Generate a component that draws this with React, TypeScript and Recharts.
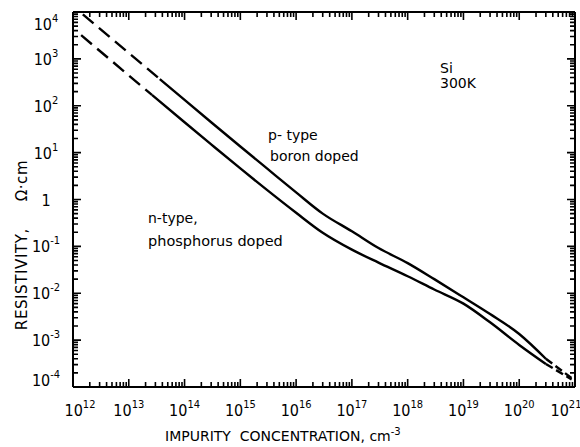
import { LineChart, Line, XAxis, YAxis, ReferenceLine } from 'recharts';

// Irvin curves, Si at 300K: concentration in cm^-3, resistivity in ohm-cm
const pDashConc = [1.5e12, 3.6e13];
const pDashRho = [8900, 370];
const pConc = [3.6e13, 1e14, 3e14, 1e15, 3e15, 1e16, 3e16, 1e17, 3e17, 1e18, 3e18, 1e19, 3e19, 1e20, 3e20];
const pRho = [370, 133, 44.5, 13.5, 4.6, 1.42, 0.5, 0.21, 0.092, 0.044, 0.02, 0.0082, 0.0036, 0.00135, 0.0004];
const pTailConc = [3e20, 8.7e20];
const pTailRho = [0.0004, 0.000155];

const nDashConc = [1.4e12, 2.6e13];
const nDashRho = [3200, 170];
const nConc = [2.6e13, 1e14, 3e14, 1e15, 3e15, 1e16, 3e16, 1e17, 3e17, 1e18, 3e18, 1e19, 3e19, 1e20, 3e20];
const nRho = [170, 44.5, 15, 4.6, 1.6, 0.52, 0.195, 0.085, 0.045, 0.023, 0.012, 0.006, 0.0024, 0.00079, 0.00031];
const nTailConc = [3e20, 8.7e20];
const nTailRho = [0.00031, 0.000145];

// decade exponents for the tick labels
const xExps = [12, 13, 14, 15, 16, 17, 18, 19, 20, 21];
const yExps = [-4, -3, -2, -1, 0, 1, 2, 3, 4];

const TICK_FONT = "'Liberation Sans Narrow', 'DejaVu Sans Condensed', sans-serif";
const TEXT_FONT = "'DejaVu Sans', sans-serif";
const INK = '#000';

const X_MIN = 1e12;
const X_MAX = 1e21;
const Y_MIN = 1e-4;
const Y_MAX = 1e4;

// plot box is 502 x 375 px -> pixels per decade, used to size the inward tick marks
const PX_DEC_X = 502 / 9;
const PX_DEC_Y = 375 / 8;

type Row = { n: number; rho: number | null };
const toRows = (xs: number[], ys: number[]): Row[] => xs.map((n, i) => ({ n, rho: ys[i] }));

const decades = (exps: number[]) => exps.map((e) => Math.pow(10, e));
// 2..9 in every decade
const minors = (exps: number[]) => {
  const out: number[] = [];
  exps.slice(0, -1).forEach((e) => {
    for (let m = 2; m <= 9; m++) out.push(m * Math.pow(10, e));
  });
  return out;
};

const xMajor = decades(xExps);
const yMajor = decades(yExps);
const xMinor = minors(xExps);
const yMinor = minors(yExps);

// inward tick marks as short broken polylines (null rows split the segments)
const bottomTicks: Row[] = [];
const topTicks: Row[] = [];
const leftTicks: Row[] = [];
const rightTicks: Row[] = [];
const addX = (v: number, len: number) => {
  const f = Math.pow(10, len / PX_DEC_Y);
  bottomTicks.push({ n: v, rho: Y_MIN }, { n: v, rho: Y_MIN * f }, { n: v, rho: null });
  topTicks.push({ n: v, rho: Y_MAX }, { n: v, rho: Y_MAX / f }, { n: v, rho: null });
};
const addY = (v: number, len: number) => {
  const f = Math.pow(10, len / PX_DEC_X);
  leftTicks.push({ n: X_MIN, rho: v }, { n: X_MIN * f, rho: v }, { n: X_MIN * f, rho: null });
  rightTicks.push({ n: X_MAX / f, rho: v }, { n: X_MAX, rho: v }, { n: X_MAX, rho: null });
};
[...xMajor].sort((a, b) => a - b).forEach((v) => addX(v, 8));
xMinor.forEach((v) => addX(v, 5));
yMajor.forEach((v) => addY(v, 8));
yMinor.forEach((v) => addY(v, 5));

function Power({ e }: { e: number }) {
  if (e === 0) return <>1</>;
  return (
    <>
      10
      <tspan dy={-8} fontSize={11}>
        {e}
      </tspan>
    </>
  );
}

const expOf = (v: number) => Math.round(Math.log10(v));

function BottomLabel(props: any) {
  const { x, y, payload } = props;
  const cx = Math.min(Math.max(x, 80), 566);
  return (
    <text x={cx} y={y + 29} textAnchor="middle" fontFamily={TICK_FONT} fontSize={16} fill={INK}>
      <Power e={expOf(payload.value)} />
    </text>
  );
}

function LeftLabel(props: any) {
  const { x, y, payload } = props;
  const cy = Math.min(Math.max(y, 24), 380);
  return (
    <text x={x - 27} y={cy + 6} textAnchor="middle" fontFamily={TICK_FONT} fontSize={16} fill={INK}>
      <Power e={expOf(payload.value)} />
    </text>
  );
}

const axisLine = { stroke: INK, strokeWidth: 2 };

export default function App() {
  const curve = { dataKey: 'rho', stroke: INK, strokeWidth: 2.4, dot: false, isAnimationActive: false };
  const tick = { dataKey: 'rho', stroke: INK, strokeWidth: 1.6, dot: false, isAnimationActive: false, type: 'linear' as const };

  return (
    <div style={{ position: 'absolute', left: 0, top: 0, width: 580, height: 447, background: '#fff' }}>
      {/* titles and curve notes, kept under the chart */}
      <svg width={580} height={447} style={{ position: 'absolute', left: 0, top: 0 }}>
        <g fontFamily={TEXT_FONT} fill={INK} fontSize={14}>
          <text x={440} y={73}>Si</text>
          <text x={440} y={88}>300K</text>
          <text x={268} y={140}>p- type</text>
          <text x={270} y={161}>boron doped</text>
          <text x={148} y={223}>n-type,</text>
          <text x={148} y={246} fontSize={14.5}>phosphorus doped</text>
        </g>
        <text x={165} y={441} fontFamily={TEXT_FONT} fontSize={14} fill={INK}>
          {'IMPURITY\u00a0\u00a0CONCENTRATION, cm'}
          <tspan dy={-6} fontSize={10}>-3</tspan>
        </text>
        <text
          x={27}
          y={245}
          transform="rotate(-90 27 245)"
          textAnchor="middle"
          fontFamily={TEXT_FONT}
          fontSize={15}
          letterSpacing={0.6}
          fill={INK}
        >
          {'RESISTIVITY,\u00a0\u00a0\u00a0\u00a0\u00a0Ω·cm'}
        </text>
      </svg>

      <div style={{ position: 'absolute', left: 0, top: 0 }}>
        <LineChart width={580} height={447} margin={{ top: 12, right: 5, bottom: 0, left: 0 }}>
          <XAxis xAxisId="bottom" dataKey="n" type="number" scale="log" domain={[X_MIN, X_MAX]} allowDataOverflow
            interval={0} ticks={xMajor} height={60} tickSize={0} tickMargin={0}
            tickLine={false} axisLine={axisLine} tick={BottomLabel} />
          <YAxis yAxisId="left" type="number" scale="log" domain={[Y_MIN, Y_MAX]} allowDataOverflow
            interval={0} ticks={yMajor} width={73} tickSize={0} tickMargin={0}
            tickLine={false} axisLine={axisLine} tick={LeftLabel} />

          {/* top and right edges of the box */}
          <ReferenceLine xAxisId="bottom" yAxisId="left" y={Y_MAX} stroke={INK} strokeWidth={2} ifOverflow="visible" />
          <ReferenceLine xAxisId="bottom" yAxisId="left" x={X_MAX} stroke={INK} strokeWidth={2} ifOverflow="visible" />

          <Line {...tick} xAxisId="bottom" yAxisId="left" data={bottomTicks} />
          <Line {...tick} xAxisId="bottom" yAxisId="left" data={topTicks} />
          <Line {...tick} xAxisId="bottom" yAxisId="left" data={leftTicks} />
          <Line {...tick} xAxisId="bottom" yAxisId="left" data={rightTicks} />

          <Line {...curve} xAxisId="bottom" yAxisId="left" data={toRows(pDashConc, pDashRho)} type="linear" strokeDasharray="14 7" />
          <Line {...curve} xAxisId="bottom" yAxisId="left" data={toRows(pConc, pRho)} type="monotone" />
          <Line {...curve} xAxisId="bottom" yAxisId="left" data={toRows(pTailConc, pTailRho)} type="linear" strokeDasharray="8 4" />

          <Line {...curve} xAxisId="bottom" yAxisId="left" data={toRows(nDashConc, nDashRho)} type="linear" strokeDasharray="14 7" />
          <Line {...curve} xAxisId="bottom" yAxisId="left" data={toRows(nConc, nRho)} type="monotone" />
          <Line {...curve} xAxisId="bottom" yAxisId="left" data={toRows(nTailConc, nTailRho)} type="linear" strokeDasharray="8 4" />
        </LineChart>
      </div>
    </div>
  );
}
